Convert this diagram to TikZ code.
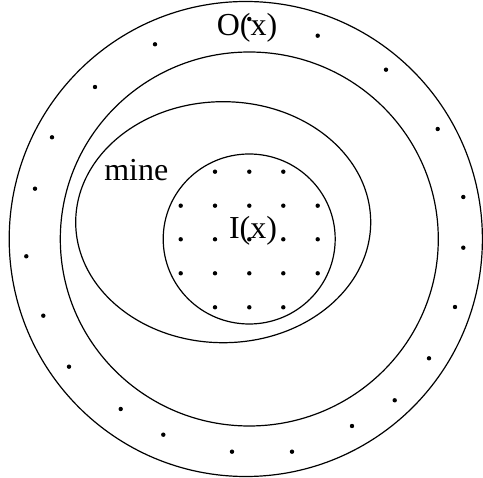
\documentclass[tikz,border=0pt]{standalone}
\usepackage{fontspec}
\setmainfont{Liberation Serif}
\begin{document}
\begin{tikzpicture}[x=1pt,y=-1pt,
  ring/.style={draw=black,line width=1.2pt},
  pt/.style={fill=black},
  lbl/.style={font=\fontsize{32}{32}\selectfont,anchor=base,inner sep=0pt}]
\useasboundingbox (0,0) rectangle (483,478);
\draw[ring] (245.8,239) ellipse [x radius=236.6, y radius=237.5];
\draw[ring] (249.3,239) ellipse [x radius=189, y radius=187];
\draw[ring] (223.2,222.2) ellipse [x radius=147.5, y radius=120.5];
\draw[ring] (249.2,239) ellipse [x radius=86, y radius=85];
% outer ring dots
\foreach \x/\y in {249.3/19, 317.7/35.7, 386/69.7, 437.7/129, 463.3/197, 463.3/247.7,
  455/307, 429/358.3, 394.7/400.3, 352/426, 292/451.7, 232/451.7, 163.3/434.7,
  120.7/409, 69/366.7, 43.3/315.7, 26.3/256.3, 35/188.7, 52/137.3, 95/87, 155/44.3}
  \fill[pt] (\x,\y) circle (2.2);
% inner grid dots
\foreach \x in {215,249.3,283.3} {
  \fill[pt] (\x,171.7) circle (2.2);
  \fill[pt] (\x,307.3) circle (2.2);
}
\foreach \y in {205.7,239.3,273.3}
  \foreach \x in {180.7,215,249.3,283.3,317.7}
    \fill[pt] (\x,\y) circle (2.2);
\node[lbl] (o) at (247,36) {O(x)};
\node[lbl] (m) at (136.3,180.7) {mine};
\node[lbl] (i) at (253,238.3) {I(x)};
\end{tikzpicture}
\end{document}
